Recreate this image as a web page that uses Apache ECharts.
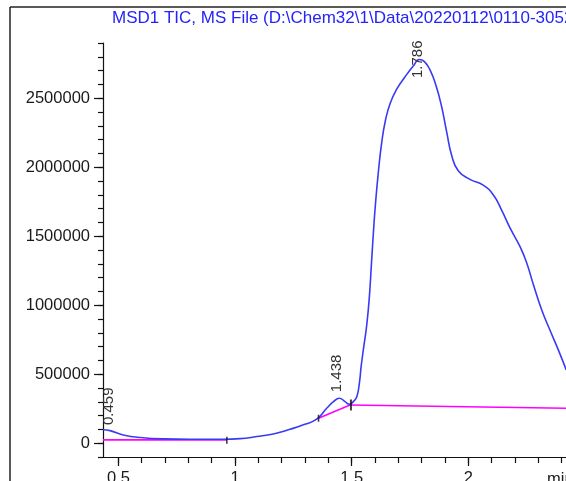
<!DOCTYPE html>
<html><head><meta charset="utf-8">
<script src="https://cdn.jsdelivr.net/npm/echarts@6/dist/echarts.min.js"></script>
<style>html,body{margin:0;padding:0;background:#fff;}#c{width:566px;height:481px;}</style>
</head><body><div id="c"></div>
<script>
// ---- data ----
const titleText = 'MSD1 TIC, MS File (D:\\Chem32\\1\\Data\\20220112\\0110-3052';
const xUnit = 'min';
const ticTimes = [0.434, 0.464, 0.521, 0.593, 0.693, 0.807, 0.950, 1.022, 1.093, 1.164, 1.236, 1.293, 1.350, 1.393, 1.422, 1.447, 1.472, 1.490, 1.507, 1.522, 1.533, 1.541, 1.552, 1.565, 1.576, 1.585, 1.594, 1.602, 1.614, 1.629, 1.645, 1.665, 1.693, 1.729, 1.765, 1.790, 1.812, 1.836, 1.862, 1.886, 1.908, 1.929, 1.957, 2.007, 2.064, 2.107, 2.143, 2.179, 2.222, 2.250, 2.279, 2.315, 2.350, 2.386, 2.420];
const ticValues = [98000, 91000, 60000, 41000, 31000, 29000, 29000, 33000, 48000, 67000, 101000, 133000, 174000, 253000, 301000, 326000, 301000, 282000, 301000, 337000, 434000, 560000, 700000, 860000, 1062000, 1303000, 1545000, 1730000, 1955000, 2180000, 2340000, 2462000, 2565000, 2655000, 2735000, 2780000, 2765000, 2705000, 2590000, 2437000, 2250000, 2085000, 1975000, 1912000, 1870000, 1800000, 1689000, 1560000, 1424000, 1310000, 1150000, 965000, 820000, 676000, 531000];
const baseline1Times = [0.434, 0.965];
const baseline1Values = [24000, 24000];
const baseline2Times = [1.358, 1.493];
const baseline2Values = [181000, 277000];
const baseline3Times = [1.493, 2.420];
const baseline3Values = [277000, 253000];
const markerTimes = [0.965, 1.358, 1.497];
const markerValues = [22000, 181000, 277000];
const peakTimes = [0.459, 1.438, 1.786];
const peakLabels = ['0.459', '1.438', '1.786'];
const peakHeights = [88000, 326000, 2780000];
const yMajorTicks = [0, 500000, 1000000, 1500000, 2000000, 2500000];
const yMinorStep = 100000;
const yAxisMin = -100000, yAxisMax = 2900000;
const xMajorTicks = [0.5, 1, 1.5, 2];
const xMinorStep = 0.1;
const xMinorLast = 2.4;
const xAxisMin = 0.434, xAxisMax = 2.419;

// ---- layout ----
const FONT = '"Liberation Sans", Arial, sans-serif';
const L = 103, T = 43, B = 457, R = 566;
const pxPerMin = (R - L) / (xAxisMax - xAxisMin);
const pxPerVal = (B - T) / (yAxisMax - yAxisMin);
const xPix = t => L + (t - xAxisMin) * pxPerMin;
const yPix = v => B - (v - yAxisMin) * pxPerVal;

const zip = (a, b) => a.map((x, i) => [x, b[i]]);
const yMajTop = yPix(yMajorTicks[yMajorTicks.length - 1]);
const yMajBot = yPix(yMajorTicks[0]);
const xMinL = xPix(xMajorTicks[0]);

const hiddenAx = (gi) => ({gridIndex: gi, type: 'value', show: false, min: 0, max: 1});
const G = (o) => Object.assign({containLabel: false, outerBoundsMode: 'none'}, o);

const option = {
  animation: false,
  backgroundColor: '#ffffff',
  grid: [
    G({left: L, top: T, width: R - L, height: B - T}),
    G({left: L, top: yMajTop, width: R - L, height: yMajBot - yMajTop}),
    G({left: xMinL, top: T, width: xPix(xMinorLast) - xMinL, height: B - T}),
    G({left: xMinL, top: T, width: xPix(xMajorTicks[xMajorTicks.length - 1]) - xMinL, height: B - T})
  ],
  xAxis: [
    {gridIndex: 0, type: 'value', min: xAxisMin, max: xAxisMax,
     axisLine: {show: true, onZero: false, lineStyle: {color: '#111', width: 1.2}},
     axisTick: {show: false}, axisLabel: {show: false}, splitLine: {show: false}},
    hiddenAx(1),
    {gridIndex: 2, type: 'value', min: xMajorTicks[0], max: xMinorLast, interval: xMinorStep,
     axisLine: {show: false, onZero: false}, axisTick: {show: true, length: 6, lineStyle: {color: '#111', width: 1.2}},
     axisLabel: {show: false}, splitLine: {show: false}},
    {gridIndex: 3, type: 'value', min: xMajorTicks[0], max: xMajorTicks[xMajorTicks.length - 1],
     interval: xMajorTicks[1] - xMajorTicks[0],
     axisLine: {show: false, onZero: false}, axisTick: {show: true, length: 9, lineStyle: {color: '#111', width: 1.2}},
     axisLabel: {show: true, margin: 13, color: '#1a1a1a', fontFamily: FONT, fontSize: 16.5,
       formatter: v => String(+v.toFixed(1))}, splitLine: {show: false}}
  ],
  yAxis: [
    {gridIndex: 0, type: 'value', min: yAxisMin, max: yAxisMax, interval: yMinorStep,
     axisLine: {show: true, onZero: false, lineStyle: {color: '#111', width: 1.2}},
     axisTick: {show: true, length: 5, lineStyle: {color: '#111', width: 1.2}},
     axisLabel: {show: false}, splitLine: {show: false}},
    {gridIndex: 1, type: 'value', min: yMajorTicks[0], max: yMajorTicks[yMajorTicks.length - 1],
     interval: yMajorTicks[1] - yMajorTicks[0],
     axisLine: {show: false, onZero: false}, axisTick: {show: true, length: 9, lineStyle: {color: '#111', width: 1.2}},
     axisLabel: {show: true, margin: 13, color: '#1a1a1a', fontFamily: FONT, fontSize: 16.5,
       formatter: v => String(v)},
     splitLine: {show: false}},
    hiddenAx(2), hiddenAx(3)
  ],
  series: [
    {type: 'line', xAxisIndex: 0, yAxisIndex: 0, data: zip(baseline1Times, baseline1Values),
     symbol: 'none', lineStyle: {color: '#ff00ff', width: 1.6}, z: 3},
    {type: 'line', xAxisIndex: 0, yAxisIndex: 0, data: zip(baseline2Times, baseline2Values),
     symbol: 'none', lineStyle: {color: '#ff00ff', width: 1.6}, z: 3},
    {type: 'line', xAxisIndex: 0, yAxisIndex: 0, data: zip(baseline3Times, baseline3Values),
     symbol: 'none', lineStyle: {color: '#ff00ff', width: 1.6}, z: 3},
    {type: 'line', xAxisIndex: 0, yAxisIndex: 0, data: zip(ticTimes, ticValues),
     symbol: 'none', smooth: 0.5,
     lineStyle: {color: '#3a3af5', width: 1.6}, z: 4},
    {type: 'scatter', xAxisIndex: 0, yAxisIndex: 0, data: zip(markerTimes, markerValues),
     symbol: 'rect', symbolSize: (v, p) => p.dataIndex === 2 ? [2, 11] : [1.6, 7],
     itemStyle: {color: '#111'}, z: 5, silent: true}
  ]
};

const chart = echarts.init(document.getElementById('c'), null, {renderer: 'canvas'});
chart.setOption(option);

const graphics = [
  {type: 'line', shape: {x1: 10, y1: 7, x2: 566, y2: 7}, style: {stroke: '#222', lineWidth: 1.5}},
  {type: 'line', shape: {x1: 10, y1: 7, x2: 10, y2: 481}, style: {stroke: '#222', lineWidth: 1.5}},
  {type: 'text', x: 112, y: 18, style: {text: titleText, fill: '#2424f8', font: '17px ' + FONT,
    align: 'left', verticalAlign: 'middle'}},
  {type: 'text', x: 547, y: 479, style: {text: xUnit, fill: '#1a1a1a', font: '16.5px ' + FONT,
    align: 'left', verticalAlign: 'middle'}}
];
peakTimes.forEach((t, i) => {
  const p = chart.convertToPixel({gridIndex: 0}, [t, peakHeights[i]]);
  const textLen = 40;
  const bottom = Math.max(p[1] - 6, 38 + textLen);
  graphics.push({type: 'text', x: p[0], y: bottom, rotation: Math.PI / 2,
    style: {text: peakLabels[i], fill: '#333', font: '15px ' + FONT, align: 'left', verticalAlign: 'middle'}, z: 10});
});
chart.setOption({graphic: graphics});
</script></body></html>
